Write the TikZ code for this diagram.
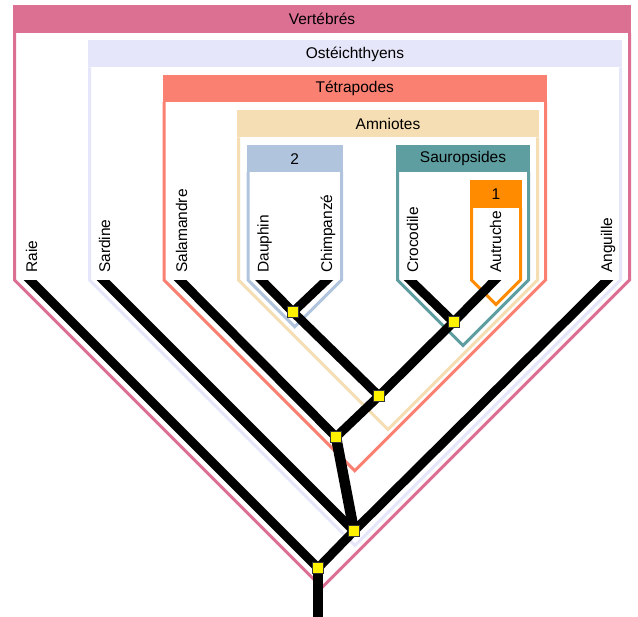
\documentclass[tikz,border=0pt]{standalone}
\usepackage{fontspec}
\setmainfont{Liberation Sans}
\definecolor{cVert}{HTML}{DB7093}
\definecolor{cOst}{HTML}{E6E6FA}
\definecolor{cTet}{HTML}{FA8072}
\definecolor{cAmn}{HTML}{F5DEB3}
\definecolor{cDeux}{HTML}{B0C4DE}
\definecolor{cSau}{HTML}{5F9EA0}
\definecolor{cUn}{HTML}{FF8C00}
\newcommand\cladebox[7]{%
  \pgfmathsetmacro\cbl{#2+1.5}%
  \pgfmathsetmacro\cbr{#3-1.5}%
  \pgfmathsetmacro\cbm{(#2+#3)/2}%
  \pgfmathsetmacro\cbb{280+(#3-#2-3)/2}%
  \pgfmathsetmacro\cbh{(#4+#5)/2}%
  \draw[line width=3pt, draw=#1, line join=miter] (\cbl,#5) -- (\cbl,280) -- (\cbm,\cbb) -- (\cbr,280) -- (\cbr,#5);
  \fill[#1] (#2,#4) rectangle (#3,#5);
  \node[hdr] (#7) at (\cbm,\cbh) {#6};
}
\begin{document}
\begin{tikzpicture}[x=1pt,y=-1pt,
  hdr/.style={font=\fontsize{15.5}{18}\selectfont, inner sep=0pt, text=black},
  lbl/.style={font=\fontsize{15.5}{18}\selectfont, inner sep=0pt, rotate=90, anchor=base west, text=black},
  branch/.style={line width=9pt, line cap=round, draw=black},
  thick branch/.style={line width=10.5pt, line cap=round, draw=black},
  junc/.style={draw=black!80, line width=0.8pt, fill=yellow, minimum size=11pt, inner sep=0pt, rectangle}]
\useasboundingbox (0,0) rectangle (638,617);
\fill[white] (0,0) rectangle (638,617);
% clade boxes
\cladebox{cVert}{13}{631}{5}{33}{Vertébrés}{hVert}
\cladebox{cOst}{88}{622}{40.5}{67.5}{Ostéichthyens}{hOst}
\cladebox{cTet}{162.5}{547}{75.5}{102}{Tétrapodes}{hTet}
\cladebox{cAmn}{237}{539}{110.5}{137.5}{Amniotes}{hAmn}
\cladebox{cDeux}{246.5}{343}{145.5}{172}{2}{hDeux}
\cladebox{cSau}{396}{530}{145.5}{172}{Sauropsides}{hSau}
\cladebox{cUn}{470}{522}{180}{208}{1}{hUn}
% junctions
\coordinate (root) at (318,568);
\coordinate (n2) at (354,531);
\coordinate (n3) at (336,437);
\coordinate (n4) at (379,396);
\coordinate (n5) at (293,312);
\coordinate (n6) at (453.5,322);
\coordinate (base) at (318,617);
% tips
\coordinate (tRaie) at (25,275);
\coordinate (tSardine) at (98,275);
\coordinate (tSalamandre) at (175,275);
\coordinate (tDauphin) at (256.5,275);
\coordinate (tChimpanze) at (332,275);
\coordinate (tCrocodile) at (405,275);
\coordinate (tAutruche) at (500,275);
\coordinate (tAnguille) at (612,275);
\begin{scope}
\clip (0,281) rectangle (638,617);
\draw[branch] (tRaie) -- (root);
\draw[branch] (tSardine) -- (n2);
\draw[branch] (tAnguille) -- (n2);
\draw[branch] (tSalamandre) -- (n3);
\draw[branch] (tDauphin) -- (n5);
\draw[branch] (tChimpanze) -- (n5);
\draw[branch] (tCrocodile) -- (n6);
\draw[branch] (tAutruche) -- (n6);
\draw[branch] (n5) -- (n4);
\draw[branch] (n6) -- (n4);
\draw[branch] (n4) -- (n3);
\draw[thick branch] (n3) -- (n2);
\draw[branch] (n2) -- (root);
\draw[line width=10.5pt, line cap=butt] (root) -- (base);
\end{scope}
\node[junc] (jroot) at (root) {};
\node[junc] (jn2) at (n2) {};
\node[junc] (jn3) at (n3) {};
\node[junc] (jn4) at (n4) {};
\node[junc] (jn5) at (n5) {};
\node[junc] (jn6) at (n6) {};
% labels
\node[lbl] (lRaie) at (37,273) {Raie};
\node[lbl] (lSardine) at (110,273) {Sardine};
\node[lbl] (lSalamandre) at (187,273) {Salamandre};
\node[lbl] (lDauphin) at (268.5,273) {Dauphin};
\node[lbl] (lChimpanze) at (332,273) {Chimpanzé};
\node[lbl] (lCrocodile) at (418,273) {Crocodile};
\node[lbl] (lAutruche) at (501,273) {Autruche};
\node[lbl] (lAnguille) at (612,273) {Anguille};
\end{tikzpicture}
\end{document}
